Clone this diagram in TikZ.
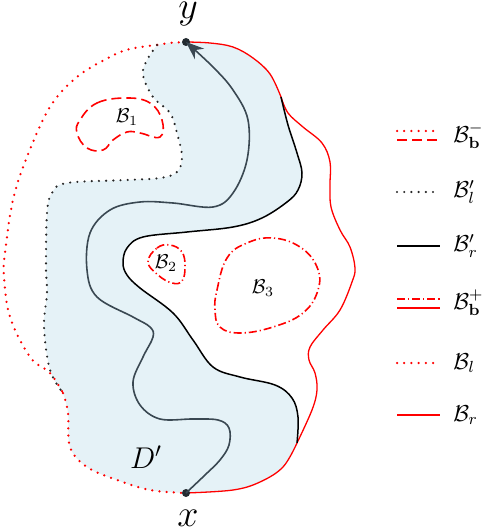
\documentclass[tikz,border=0pt]{standalone}
\usepackage{fix-cm}
\usetikzlibrary{arrows.meta}
\definecolor{redc}{RGB}{255,0,0}
\definecolor{fillc}{RGB}{229,242,247}
\definecolor{pathc}{RGB}{58,72,82}
\tikzset{
 rsolid/.style={redc, line width=0.65pt},
 rdotted/.style={redc, line width=1.25pt, line cap=round, dash pattern=on 0pt off 3.6pt},
 kdotted/.style={black!85, line width=1.2pt, line cap=round, dash pattern=on 0pt off 3.6pt},
 ksolid/.style={black, line width=0.75pt},
 rdashed/.style={redc, line width=0.8pt, dash pattern=on 5pt off 2.5pt},
 rdashdot/.style={redc, line width=0.8pt, dash pattern=on 4pt off 1.5pt on 0.6pt off 1.5pt},
 gpath/.style={pathc, line width=0.8pt},
 lbl/.style={inner sep=0pt},
 biglbl/.style={inner sep=0pt, font=\fontsize{19}{21}\selectfont},
 leglbl/.style={inner sep=0pt, anchor=west, font=\fontsize{11.5}{13}\selectfont},
 endpt/.style={circle, fill=pathc!60!black, inner sep=0pt, minimum size=4pt},
 sm/.style={smooth, tension=0.6},
}
\begin{document}
\begin{tikzpicture}[x=0.5pt,y=-0.5pt]
\useasboundingbox (0,0) rectangle (494,529);
% shaded region D'
\fill[fillc]
  plot[sm] coordinates {(186,42) (210,43) (233,47) (253,58) (270,74) (281,97)}
  -- plot[sm] coordinates {(281,97) (288,125) (297,153) (302,173) (298,190) (287,202) (262,218) (233,227) (187,232) (143,237) (127,248) (123,263) (127,275) (140,288) (173,313) (193,340) (213,367) (240,377) (275,385) (292,398) (298,417) (297,443)}
  -- plot[sm] coordinates {(297,443) (283,467) (260,482) (233,490) (186,493)}
  -- plot[sm] coordinates {(186,493) (150,490) (117,480) (87,467) (70,447) (68,413) (63,393)}
  -- plot[sm] coordinates {(63,393) (50,370) (44,327) (47,293) (46,267) (47,213) (52,193) (67,183) (127,180) (160,178) (177,172) (182,157) (177,133) (170,113) (153,97) (143,75) (147,60) (157,45)}
  -- plot[sm] coordinates {(157,45) (170,43) (186,42)} -- cycle;
% B_r (red solid)
\draw[rsolid]
  plot[sm] coordinates {(186,42) (210,43) (233,47) (253,58) (270,74) (281,97)}
  plot[sm] coordinates {(281,97) (288,113) (303,127) (322,143) (330,162) (330,185) (331,207) (340,230) (350,247) (355,268) (352,282) (340,310) (323,330) (310,347) (309,360) (315,373) (317,390) (312,410) (297,443)}
  plot[sm] coordinates {(297,443) (283,467) (260,482) (233,490) (186,493)};
% B'_r (black solid)
\draw[ksolid] plot[sm] coordinates {(281,97) (288,125) (297,153) (302,173) (298,190) (287,202) (262,218) (233,227) (187,232) (143,237) (127,248) (123,263) (127,275) (140,288) (173,313) (193,340) (213,367) (240,377) (275,385) (292,398) (298,417) (297,443)};
% B_l (red dotted)
\draw[rdotted]
  plot[sm] coordinates {(186,42) (170,43) (157,45)}
  plot[sm] coordinates {(157,45) (130,49) (110,57) (77,77) (50,107) (27,157) (13,200) (5,253) (4,277) (10,317) (30,357) (50,373) (63,393)}
  plot[sm] coordinates {(63,393) (68,413) (70,447) (87,467) (117,480) (150,490) (186,493)};
% B'_l (black dotted)
\draw[kdotted] plot[sm] coordinates {(157,45) (147,60) (143,75) (153,97) (170,113) (177,133) (182,157) (177,172) (160,178) (127,180) (67,183) (52,193) (47,213) (46,267) (47,293) (44,327) (50,370) (63,393)};
% obstacles
\draw[rdashed] plot[smooth cycle, tension=0.7] coordinates {(80,120) (97,103) (127,98) (150,103) (162,120) (160,137) (140,133) (127,132) (113,140) (103,150) (87,148) (77,133)};
\draw[rdashdot] plot[smooth cycle, tension=0.7] coordinates {(148,262) (157,248) (170,245) (182,252) (185,267) (182,281) (172,283) (158,275)};
\draw[rdashdot] plot[smooth cycle, tension=0.7] coordinates {(215,310) (217,290) (227,258) (247,243) (273,238) (300,247) (317,267) (318,290) (303,313) (273,327) (240,333) (220,327)};
\node[lbl] (b1) at (127,117) {$\mathcal{B}_1$};
\node[lbl] (b2) at (166,263) {$\mathcal{B}_2$};
\node[lbl] (b3) at (263,288) {$\mathcal{B}_3$};
\node[lbl, font=\fontsize{15}{17}\selectfont] (dp) at (146,457) {$D'$};
% end points
\node[endpt] (yp) at (186,42) {};
\node[endpt] (xp) at (186,493) {};
\node[biglbl] (ylab) at (188,14) {$y$};
\node[biglbl] (xlab) at (188,518) {$x$};
% path from x to y
\draw[gpath, -{Stealth[length=9pt,width=7pt]}] plot[sm] coordinates {(xp.center) (205,475) (220,460) (229,445) (229,428) (218,420) (193,419) (160,419) (140,405) (133,382) (143,357) (153,337) (150,327) (133,317) (97,297) (87,270) (90,233) (110,210) (140,202) (173,203) (213,207) (233,193) (247,160) (248,120) (233,90) (213,67) (yp.center)};
% legend
\coordinate (l1a) at (397,131); \coordinate (l1b) at (440,131);
\coordinate (l1c) at (397,140); \coordinate (l1d) at (440,140);
\draw[rdotted] (l1a) -- (l1b);
\draw[rdashed] (l1c) -- (l1d);
\node[leglbl] (t1) at (453,136) {$\mathcal{B}_{\mathbf{b}}^{-}$};
\coordinate (l2a) at (397,192); \coordinate (l2b) at (440,192);
\draw[kdotted] (l2a) -- (l2b);
\node[leglbl] (t2) at (453,192) {$\mathcal{B}'_l$};
\coordinate (l3a) at (397,246); \coordinate (l3b) at (440,246);
\draw[ksolid] (l3a) -- (l3b);
\node[leglbl] (t3) at (453,246) {$\mathcal{B}'_r$};
\coordinate (l4a) at (397,299); \coordinate (l4b) at (440,299);
\coordinate (l4c) at (397,308); \coordinate (l4d) at (440,308);
\draw[rdashdot] (l4a) -- (l4b);
\draw[rsolid, line width=0.9pt] (l4c) -- (l4d);
\node[leglbl] (t4) at (453,303) {$\mathcal{B}_{\mathbf{b}}^{+}$};
\coordinate (l5a) at (397,363); \coordinate (l5b) at (440,363);
\draw[rdotted] (l5a) -- (l5b);
\node[leglbl] (t5) at (453,363) {$\mathcal{B}_l$};
\coordinate (l6a) at (397,415); \coordinate (l6b) at (440,415);
\draw[rsolid] (l6a) -- (l6b);
\node[leglbl] (t6) at (453,415) {$\mathcal{B}_r$};
\end{tikzpicture}
\end{document}
